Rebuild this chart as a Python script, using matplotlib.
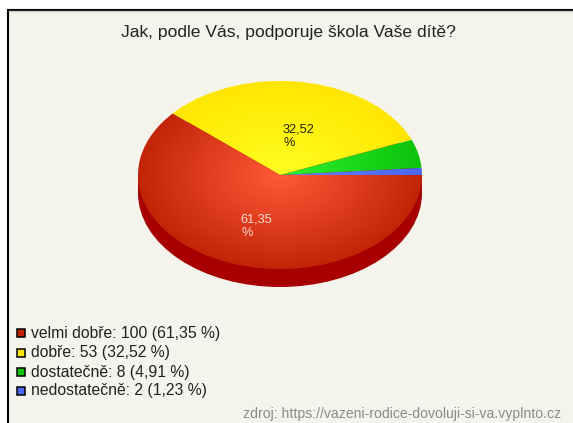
# -*- coding: utf-8 -*-
import numpy as np
import matplotlib
matplotlib.use('Agg')
import matplotlib.pyplot as plt
from matplotlib.patches import Wedge, Rectangle, Ellipse
from matplotlib.transforms import Affine2D

plt.rcParams['font.family'] = ['Liberation Sans', 'DejaVu Sans']

W, H = 573, 423
title = 'Jak, podle Vás, podporuje škola Vaše dítě?'
labels = ['velmi dobře', 'dobře', 'dostatečně', 'nedostatečně']
counts = [100, 53, 8, 2]
percents = ['61,35', '32,52', '4,91', '1,23']
colors = ['#c22408', '#ffe600', '#0cc40c', '#4a68f0']
hilite = ['#ff5a38', '#ffff20', '#30f030', '#6a80ff']
source = 'zdroj: https://vazeni-rodice-dovoluji-si-va.vyplnto.cz'

fig = plt.figure(figsize=(W / 100, H / 100), dpi=100, facecolor='white')
ax = fig.add_axes([0, 0, 1, 1])
ax.set_xlim(0, W)
ax.set_ylim(H, 0)
ax.axis('off')

# ram
ax.add_patch(Rectangle((7.5, 10), 600, 500, fc='#f4f4ec', ec='black', lw=1.5))
ax.plot([8.5, W], [11.2, 11.2], color='#c8c8c0', lw=1)

cx, cy, rx, ry, depth = 280, 175, 142, 94, 18

# bok kolace
ax.add_patch(Ellipse((cx, cy + depth), 2 * rx, 2 * ry, fc='#a80000', ec='none'))
ax.add_patch(Rectangle((cx - rx, cy), 2 * rx, depth, fc='#a80000', ec='none'))

# vysece: od 0 stupnu proti smeru hodin, y osa je otocena
tr = Affine2D().scale(rx, -ry).translate(cx, cy) + ax.transData
start = 0.0
total = float(sum(counts))
order = [3, 2, 1, 0]
grid_n = 400
xs = np.linspace(-1, 1, grid_n)
X, Y = np.meshgrid(xs, xs)
R = np.clip(np.sqrt(X ** 2 + Y ** 2), 0, 1)[..., None]
for i in order:
    sweep = 360.0 * counts[i] / total
    w = Wedge((0, 0), 1, start, start + sweep, fc='none', ec='none', transform=tr)
    ax.add_patch(w)
    c0 = np.array(matplotlib.colors.to_rgb(hilite[i]))
    c1 = np.array(matplotlib.colors.to_rgb(colors[i]))
    img = c0 + (c1 - c0) * R
    im = ax.imshow(img, extent=(cx - rx, cx + rx, cy + ry, cy - ry), aspect='auto',
                   interpolation='bilinear', zorder=2)
    im.set_clip_path(w)
    start += sweep
ax.set_xlim(0, W)
ax.set_ylim(H, 0)

ax.text(288.5, 32, title, ha='center', va='center', fontsize=12.6, color='#222222')
ax.text(283, 129, percents[1], fontsize=9.2, color='#222200', va='center', zorder=3)
ax.text(284, 143, '%', fontsize=9.2, color='#222200', va='center', zorder=3)
ax.text(240, 219, percents[0], fontsize=9.2, color='#ffdcd0', va='center', zorder=3)
ax.text(241, 233, '%', fontsize=9.2, color='#ffdcd0', va='center', zorder=3)

# legenda
legend_y = [333.5, 353, 372, 391]
for i, y in enumerate(legend_y):
    ax.add_patch(Rectangle((17, y - 4), 8, 8, fc=colors[i], ec='black', lw=1.1))
    ax.text(31, y, '%s: %d (%s %%)' % (labels[i], counts[i], percents[i]),
            fontsize=11.3, color='#222222', va='center')

ax.text(561, 414, source, ha='right', va='center', fontsize=10.1, color='#8a8a8a')

fig.savefig('out.png', dpi=100)
